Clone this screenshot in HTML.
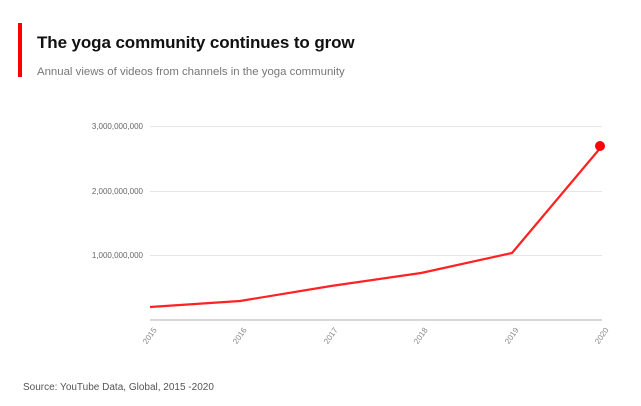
<!DOCTYPE html>
<html><head><style>
body{margin:0;width:641px;height:406px;background:#fff;font-family:"Liberation Sans",sans-serif;position:relative;overflow:hidden}
.bar{position:absolute;left:18px;top:23px;width:4px;height:54px;background:#f00}
.t{position:absolute;left:37px;top:33px;font-size:17px;font-weight:bold;color:#111;letter-spacing:-0.1px}
.s{position:absolute;left:37px;top:66px;font-size:11.4px;color:#777}
.src{position:absolute;left:23px;top:382px;font-size:10px;color:#555}
</style></head><body>
<div class="bar"></div>
<div class="t">The yoga community continues to grow</div>
<div class="s">Annual views of videos from channels in the yoga community</div>
<svg width="641" height="406" style="position:absolute;left:0;top:0">
<g stroke="#e6e6e6" stroke-width="1">
<line x1="150" y1="126.5" x2="602" y2="126.5"/>
<line x1="150" y1="191.5" x2="602" y2="191.5"/>
<line x1="150" y1="255.5" x2="602" y2="255.5"/>
</g>
<line x1="150" y1="320" x2="602" y2="320" stroke="#ccc" stroke-width="1.5"/>
<g font-size="8" fill="#666" text-anchor="end">
<text x="143" y="129">3,000,000,000</text>
<text x="143" y="194">2,000,000,000</text>
<text x="143" y="258">1,000,000,000</text>
</g>
<g font-size="8" fill="#888" text-anchor="end">
<text transform="translate(157,330) rotate(-55)">2015</text>
<text transform="translate(247,330) rotate(-55)">2016</text>
<text transform="translate(338,330) rotate(-55)">2017</text>
<text transform="translate(428,330) rotate(-55)">2018</text>
<text transform="translate(519,330) rotate(-55)">2019</text>
<text transform="translate(609,330) rotate(-55)">2020</text>
</g>
<polyline fill="none" stroke="#f22" stroke-width="2.2" stroke-linejoin="round" points="150,307 240,301 331,286 421,273 512,253 602,146"/>
<circle cx="600" cy="146" r="5" fill="#f00"/>
</svg>
<div class="src">Source: YouTube Data, Global, 2015 -2020</div>
</body></html>
